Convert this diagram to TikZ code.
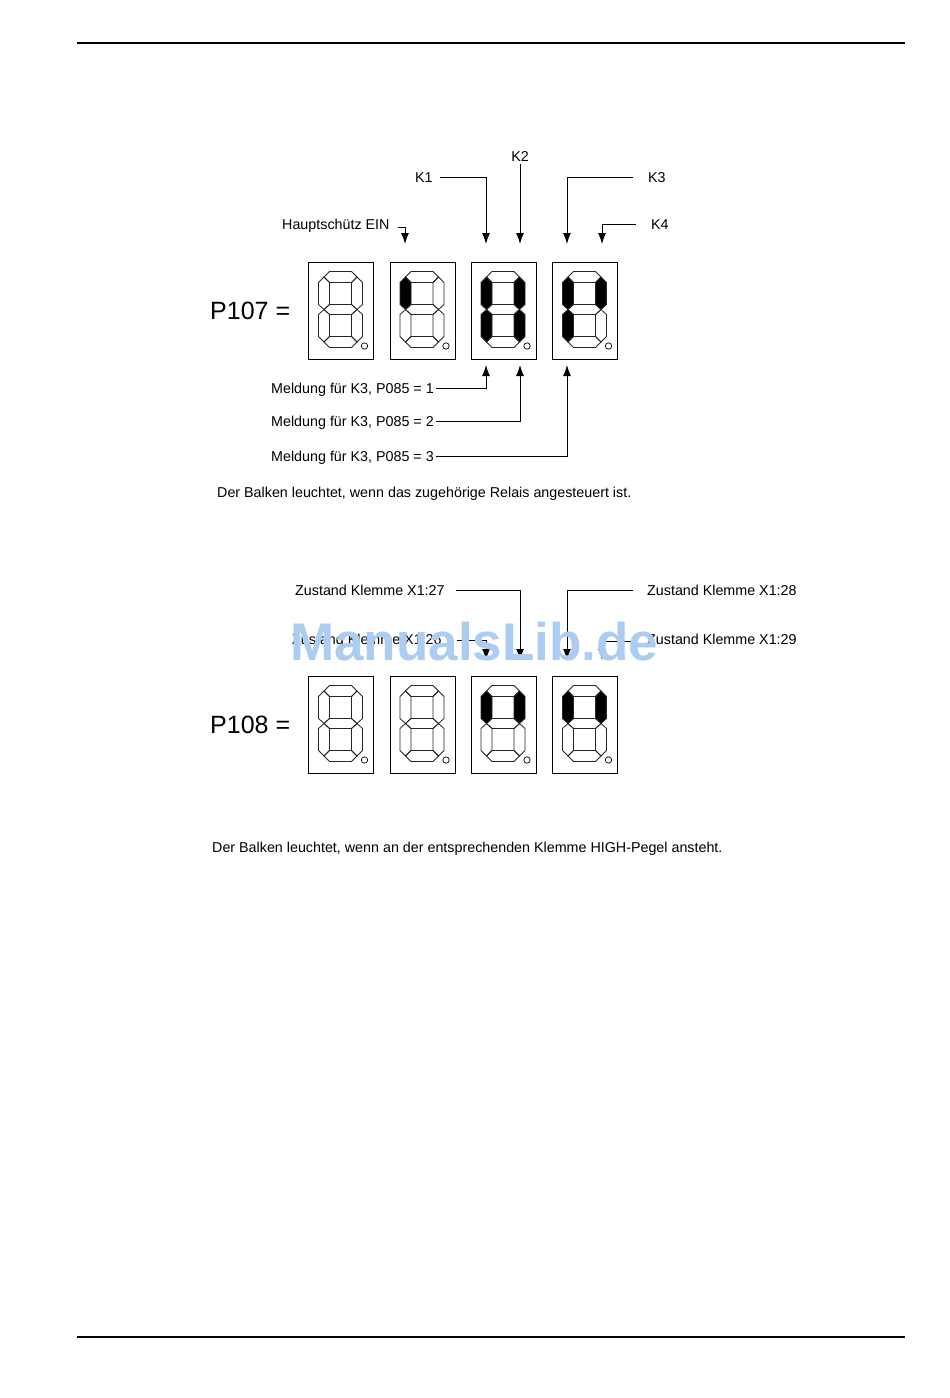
\documentclass[tikz,border=0pt]{standalone}
\usepackage{fontspec}
\setmainfont{Liberation Sans}
\usetikzlibrary{arrows.meta}
\definecolor{wmcol}{RGB}{172,204,242}
\newcommand\segdigit[2]{%
\begin{scope}[shift={(#1.north west)},#2]
 \draw[segline,sA] (21.5,21)--(16,15.5)--(21.5,10)--(43.5,10)--(49,15.5)--(43.5,21)--cycle;
 \draw[segline,sF] (10.5,21)--(16,15.5)--(21.5,21)--(21.5,43)--(16,48)--(10.5,43)--cycle;
 \draw[segline,sB] (54.5,21)--(49,15.5)--(43.5,21)--(43.5,43)--(49,48)--(54.5,43)--cycle;
 \draw[segline,sG] (16,48)--(21.5,43)--(43.5,43)--(49,48)--(43.5,53)--(21.5,53)--cycle;
 \draw[segline,sE] (10.5,53)--(16,48)--(21.5,53)--(21.5,75)--(16,80.5)--(10.5,75)--cycle;
 \draw[segline,sC] (54.5,53)--(49,48)--(43.5,53)--(43.5,75)--(49,80.5)--(54.5,75)--cycle;
 \draw[segline,sD] (21.5,75)--(43.5,75)--(49,80.5)--(43.5,86)--(21.5,86)--(16,80.5)--cycle;
 \draw[line width=0.7pt] (56.5,84.5) circle[radius=3.2pt];
\end{scope}}
\begin{document}
\begin{tikzpicture}[x=1pt,y=-1pt,
  lbl/.style={font=\fontsize{14.3}{16}\selectfont, inner sep=0pt, text height=10.3pt, text depth=0pt, anchor=west},
  big/.style={font=\fontsize{25}{28}\selectfont, inner sep=0pt, text height=18pt, text depth=0pt, anchor=west},
  conn/.style={line width=1pt, -{Latex[length=11pt,width=8pt]}},
  dbox/.style={draw, line width=1pt, minimum width=65pt, minimum height=97pt, inner sep=0pt},
  segline/.style={line width=0.8pt, draw=black!85, line join=miter},
  sA/.style={}, sB/.style={}, sC/.style={}, sD/.style={}, sE/.style={}, sF/.style={}, sG/.style={},
  on/.style={#1/.style={fill=black}}]
\fill[white] (0,0) rectangle (950,1398);
\useasboundingbox (0,0) rectangle (950,1398);
% rules
\coordinate (hl) at (77,43); \coordinate (hr) at (905,43);
\coordinate (fl) at (77,1337); \coordinate (fr) at (905,1337);
\draw[line width=1.3pt] (hl) -- (hr);
\draw[line width=1.3pt] (fl) -- (fr);
% ---------- P107 ----------
\node[big] (p107) at (210,310) {P107 =};
\node[dbox] (a1) at (341,310.5) {};
\node[dbox] (a2) at (422.5,310.5) {};
\node[dbox] (a3) at (503.5,310.5) {};
\node[dbox] (a4) at (585,310.5) {};
\segdigit{a1}{}
\segdigit{a2}{on=sF}
\segdigit{a3}{on=sF,on=sB,on=sE,on=sC}
\segdigit{a4}{on=sF,on=sB,on=sE}
\node[lbl] (hs) at (282,224) {Hauptschütz EIN};
\node[lbl] (k1) at (415,177.5) {K1};
\node[lbl,anchor=center] (k2) at (520,156) {K2};
\node[lbl] (k3) at (648,177) {K3};
\node[lbl] (k4) at (651,224) {K4};
\coordinate (tHS) at (405,244);
\coordinate (tK1) at (486,244);
\coordinate (tK2) at (520,244);
\coordinate (tK3) at (567,244);
\coordinate (tK4) at (602,244);
\draw[conn] ([xshift=8pt,yshift=-3pt]hs.east) -| (tHS);
\draw[conn] ([xshift=7pt]k1.east) -| (tK1);
\draw[conn] ([yshift=-3pt]k2.south) -- (tK2);
\draw[conn] ([xshift=-15pt]k3.west) -| (tK3);
\draw[conn] ([xshift=-15pt]k4.west) -| (tK4);
\node[lbl] (m1) at (271,388) {Meldung für K3, P085 = 1};
\node[lbl] (m2) at (271,421) {Meldung für K3, P085 = 2};
\node[lbl] (m3) at (271,456) {Meldung für K3, P085 = 3};
\coordinate (tM1) at (486,365);
\coordinate (tM2) at (520,365);
\coordinate (tM3) at (567,365);
\draw[conn] ([xshift=2pt]m1.east) -| (tM1);
\draw[conn] ([xshift=2pt]m2.east) -| (tM2);
\draw[conn] ([xshift=2pt]m3.east) -| (tM3);
\node[lbl] (cap1) at (217,492) {Der Balken leuchtet, wenn das zugehörige Relais angesteuert ist.};
% ---------- P108 ----------
\node[big] (p108) at (210,724.5) {P108 =};
\node[dbox] (b1) at (341,724.5) {};
\node[dbox] (b2) at (422.5,724.5) {};
\node[dbox] (b3) at (503.5,724.5) {};
\node[dbox] (b4) at (585,724.5) {};
\segdigit{b1}{}
\segdigit{b2}{}
\segdigit{b3}{on=sF,on=sB}
\segdigit{b4}{on=sF,on=sB}
\node[lbl] (z27) at (295,590) {Zustand Klemme X1:27};
\node[lbl] (z28) at (647,590) {Zustand Klemme X1:28};
\node[lbl] (z26) at (292,639) {Zustand Klemme X1:26};
\node[lbl] (z29) at (647,639) {Zustand Klemme X1:29};
\coordinate (tZ26) at (486,660);
\coordinate (tZ27) at (520,660);
\coordinate (tZ28) at (567,660);
\coordinate (tZ29) at (602,660);
\draw[conn] ([xshift=11pt]z27.east) -| (tZ27);
\draw[conn] ([xshift=-14pt]z28.west) -| (tZ28);
\draw[conn] ([xshift=15pt,yshift=-1pt]z26.east) -| (tZ26);
\draw[conn] ([xshift=-11pt,yshift=-2pt]z29.west) -| (tZ29);
\node[lbl] (cap2) at (212,847) {Der Balken leuchtet, wenn an der entsprechenden Klemme HIGH-Pegel ansteht.};
% watermark
\node[font=\fontsize{53}{60}\selectfont\bfseries, text=wmcol, inner sep=0pt, anchor=base west] (wm) at (290,660) {ManualsLib.de};
\end{tikzpicture}
\end{document}
